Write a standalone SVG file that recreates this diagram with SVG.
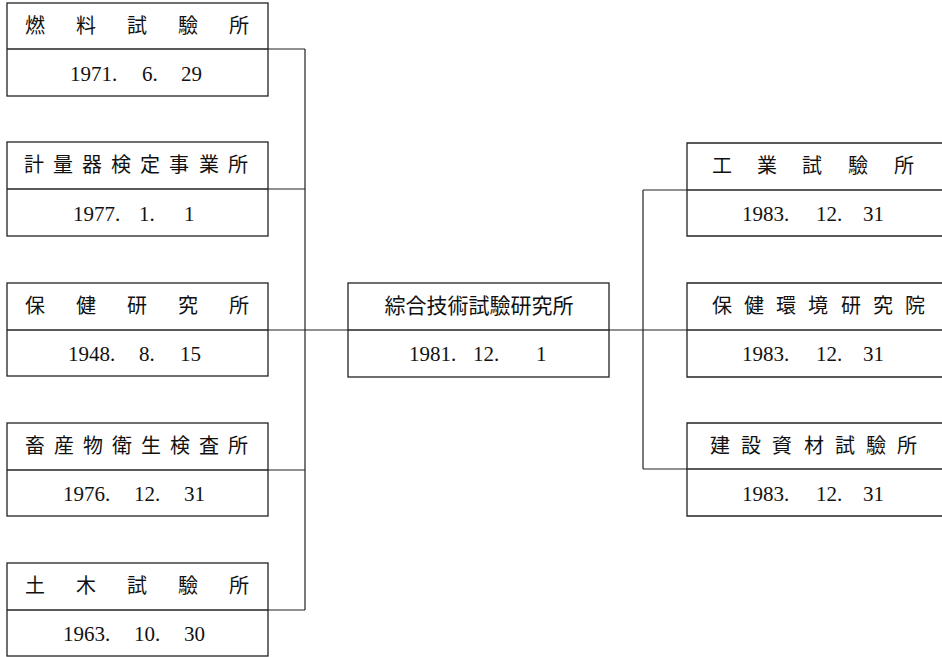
<svg xmlns="http://www.w3.org/2000/svg" width="942" height="657" viewBox="0 0 942 657">
<style>
.box{fill:#fff;stroke:#222;stroke-width:1.3}
.div{stroke:#222;stroke-width:1.3}
.con{stroke:#222;stroke-width:1.2;fill:none}
.t{font-family:"Noto Sans CJK KR","Noto Sans CJK JP",sans-serif;font-size:20px;fill:#111;text-anchor:middle}
.d{font-family:"Liberation Serif","Times New Roman",serif;font-size:21px;fill:#111}
</style>
<rect width="942" height="657" fill="#fff"/>
<g id="connectors">
<path class="con" d="M268 49H305M268 189H305M268 330H348M268 470H305M268 610H305M305 49V610"/>
<path class="con" d="M609 330H687M643 190V469M643 190H687M643 469H687"/>
</g>
<g id="n1">
<rect class="box" x="7" y="3" width="261" height="93"/>
<line class="div" x1="7" y1="49" x2="268" y2="49"/>
<text class="t" x="35 86 137 188 239" y="33">燃料試驗所</text>
<text class="d" y="81"><tspan x="70">1971.</tspan><tspan x="142">6.</tspan><tspan x="181">29</tspan></text>
</g>
<g id="n2">
<rect class="box" x="7" y="142" width="261" height="94"/>
<line class="div" x1="7" y1="189" x2="268" y2="189"/>
<text class="t" x="34 63 92 121 150 179 209 238" y="172">計量器検定事業所</text>
<text class="d" y="221"><tspan x="73">1977.</tspan><tspan x="139">1.</tspan><tspan x="184">1</tspan></text>
</g>
<g id="n3">
<rect class="box" x="7" y="283" width="261" height="93"/>
<line class="div" x1="7" y1="330" x2="268" y2="330"/>
<text class="t" x="35 86 137 188 239" y="313">保健研究所</text>
<text class="d" y="361"><tspan x="68">1948.</tspan><tspan x="139">8.</tspan><tspan x="180">15</tspan></text>
</g>
<g id="n4">
<rect class="box" x="7" y="423" width="261" height="93"/>
<line class="div" x1="7" y1="470" x2="268" y2="470"/>
<text class="t" x="35 64 93 122 151 180 209 238" y="453">畜産物衛生検査所</text>
<text class="d" y="501"><tspan x="63">1976.</tspan><tspan x="134">12.</tspan><tspan x="184">31</tspan></text>
</g>
<g id="n5">
<rect class="box" x="7" y="563" width="261" height="93"/>
<line class="div" x1="7" y1="610" x2="268" y2="610"/>
<text class="t" x="35 86 137 188 239" y="593">土木試驗所</text>
<text class="d" y="641"><tspan x="63">1963.</tspan><tspan x="134">10.</tspan><tspan x="184">30</tspan></text>
</g>
<g id="center">
<rect class="box" x="348" y="283" width="261" height="94"/>
<line class="div" x1="348" y1="330" x2="609" y2="330"/>
<text class="t" x="479" y="313" style="font-size:21px">綜合技術試驗研究所</text>
<text class="d" y="361"><tspan x="409">1981.</tspan><tspan x="473">12.</tspan><tspan x="536">1</tspan></text>
</g>
<g id="r1">
<path class="box" d="M945 143H687V236H945"/>
<line class="div" x1="687" y1="190" x2="942" y2="190"/>
<text class="t" x="722 767 812 858 904" y="173">工業試驗所</text>
<text class="d" y="221"><tspan x="742">1983.</tspan><tspan x="816">12.</tspan><tspan x="863">31</tspan></text>
</g>
<g id="r2">
<path class="box" d="M945 283H687V377H945"/>
<line class="div" x1="687" y1="330" x2="942" y2="330"/>
<text class="t" x="722 754 786 818 851 883 915" y="313">保健環境研究院</text>
<text class="d" y="361"><tspan x="742">1983.</tspan><tspan x="816">12.</tspan><tspan x="863">31</tspan></text>
</g>
<g id="r3">
<path class="box" d="M945 423H687V516H945"/>
<line class="div" x1="687" y1="469" x2="942" y2="469"/>
<text class="t" x="720 751 782 814 845 876 907" y="453">建設資材試驗所</text>
<text class="d" y="501"><tspan x="742">1983.</tspan><tspan x="816">12.</tspan><tspan x="863">31</tspan></text>
</g>
</svg>
